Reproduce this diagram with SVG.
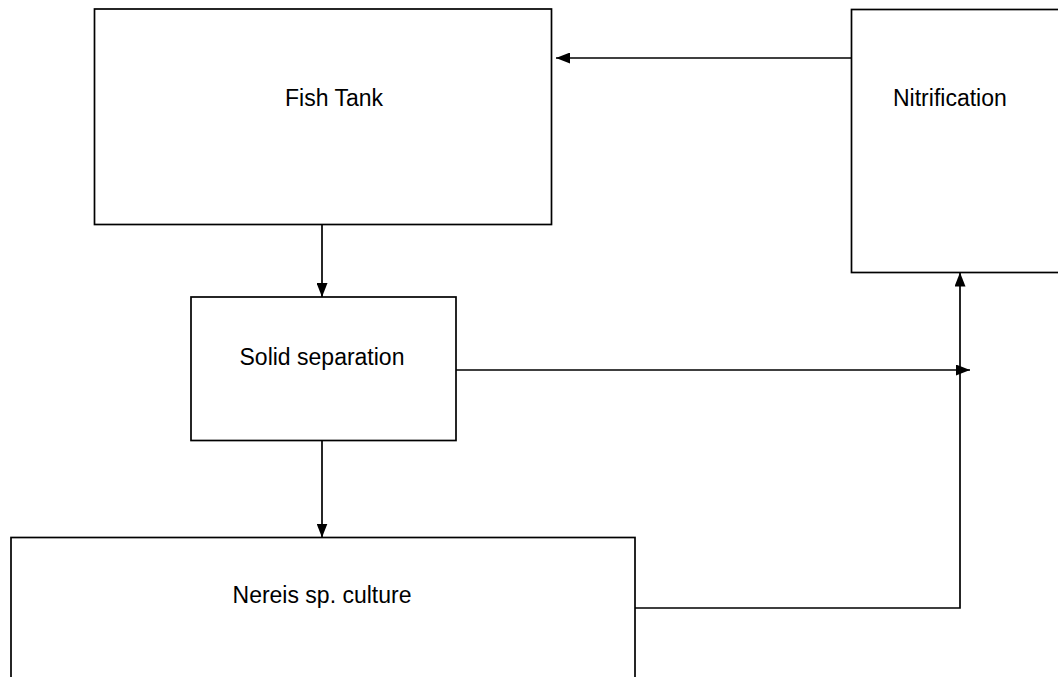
<svg xmlns="http://www.w3.org/2000/svg" width="1058" height="677" viewBox="0 0 1058 677">
  <style>
    .box { fill: #ffffff; stroke: #000000; stroke-width: 1.7; }
    .label { font-family: "Liberation Sans", Arial, sans-serif; font-size: 23px; fill: #000000; }
    .wire { fill: none; stroke: #000000; stroke-width: 1.7; }
  </style>
  <defs>
    <marker id="arrow" viewBox="0 0 14 11" refX="14" refY="5.5" markerWidth="14" markerHeight="11" markerUnits="userSpaceOnUse" orient="auto">
      <path d="M0,0 L14,5.5 L0,11 Z" fill="#000000"/>
    </marker>
  </defs>
  <rect width="1058" height="677" fill="#ffffff"/>

  <g id="fish-tank">
    <rect class="box" x="94.5" y="9" width="457" height="215.5"/>
    <text class="label" x="334" y="106" text-anchor="middle">Fish Tank</text>
  </g>

  <g id="nitrification">
    <rect class="box" x="851.5" y="9.5" width="220" height="263"/>
    <text class="label" x="893" y="106">Nitrification</text>
  </g>

  <g id="solid-separation">
    <rect class="box" x="191" y="297" width="265" height="143.5"/>
    <text class="label" x="322" y="365" text-anchor="middle">Solid separation</text>
  </g>

  <g id="nereis-culture">
    <rect class="box" x="11" y="537.5" width="624" height="160"/>
    <text class="label" x="322" y="603" text-anchor="middle">Nereis sp. culture</text>
  </g>

  <g id="connectors">
    <line class="wire" x1="851.5" y1="58" x2="556" y2="58" marker-end="url(#arrow)"/>
    <line class="wire" x1="322" y1="224.5" x2="322" y2="297" marker-end="url(#arrow)"/>
    <line class="wire" x1="322" y1="440.5" x2="322" y2="537.5" marker-end="url(#arrow)"/>
    <line class="wire" x1="456" y1="370" x2="970" y2="370" marker-end="url(#arrow)"/>
    <polyline class="wire" points="635,608 960,608 960,272.5" marker-end="url(#arrow)"/>
  </g>
</svg>
